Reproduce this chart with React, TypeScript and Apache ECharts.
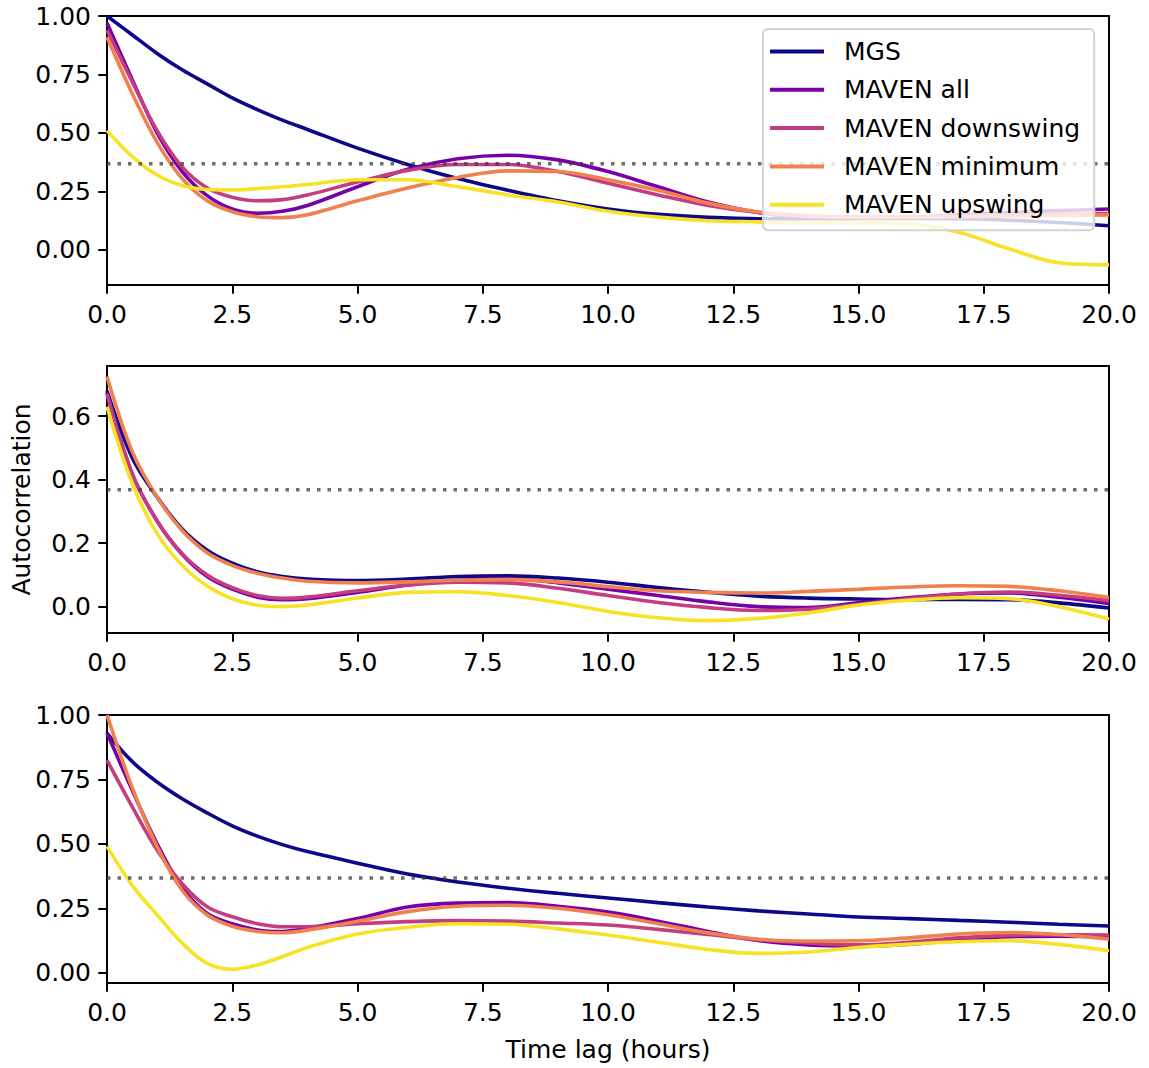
import React, { useEffect, useRef } from 'react';
import * as echarts from 'echarts';

// Time lags (hours) at which each autocorrelation curve is sampled
const lagHours = [0, 0.5, 1, 1.5, 2, 2.5, 3, 3.5, 4, 5, 6, 7, 8, 9, 10, 11, 12, 13, 14, 15, 16, 17, 18, 19, 20];

// Top panel
const topMGS = [1.0, 0.92, 0.84, 0.77, 0.71, 0.65, 0.6, 0.555, 0.515, 0.435, 0.365, 0.305, 0.255, 0.21, 0.175, 0.152, 0.139, 0.133, 0.133, 0.134, 0.135, 0.133, 0.127, 0.117, 0.103];
const topAll = [0.97, 0.73, 0.5, 0.335, 0.232, 0.175, 0.157, 0.165, 0.19, 0.27, 0.345, 0.39, 0.405, 0.385, 0.335, 0.27, 0.205, 0.16, 0.138, 0.135, 0.14, 0.15, 0.16, 0.168, 0.175];
const topDown = [0.94, 0.72, 0.51, 0.355, 0.265, 0.225, 0.21, 0.215, 0.235, 0.29, 0.34, 0.365, 0.365, 0.335, 0.285, 0.235, 0.19, 0.16, 0.145, 0.14, 0.14, 0.145, 0.15, 0.152, 0.155];
const topMin = [0.91, 0.67, 0.46, 0.305, 0.21, 0.163, 0.142, 0.138, 0.15, 0.21, 0.265, 0.31, 0.338, 0.335, 0.3, 0.255, 0.2, 0.162, 0.145, 0.14, 0.14, 0.142, 0.145, 0.148, 0.15];
const topUp = [0.51, 0.4, 0.32, 0.275, 0.258, 0.256, 0.262, 0.27, 0.28, 0.3, 0.3, 0.27, 0.235, 0.205, 0.165, 0.14, 0.125, 0.12, 0.115, 0.115, 0.112, 0.075, 0.005, -0.055, -0.064];

// Middle panel
const midMGS = [0.68, 0.47, 0.345, 0.245, 0.178, 0.137, 0.11, 0.095, 0.087, 0.082, 0.087, 0.095, 0.097, 0.09, 0.077, 0.06, 0.045, 0.033, 0.027, 0.024, 0.022, 0.023, 0.022, 0.012, -0.004];
const midAll = [0.675, 0.42, 0.27, 0.165, 0.095, 0.055, 0.03, 0.022, 0.025, 0.045, 0.068, 0.083, 0.088, 0.075, 0.055, 0.035, 0.015, 0.0, -0.003, 0.012, 0.028, 0.04, 0.043, 0.03, 0.01];
const midDown = [0.67, 0.42, 0.27, 0.167, 0.1, 0.06, 0.035, 0.026, 0.03, 0.05, 0.068, 0.077, 0.075, 0.058, 0.035, 0.013, -0.003, -0.012, -0.008, 0.007, 0.025, 0.04, 0.046, 0.036, 0.019];
const midMin = [0.725, 0.49, 0.345, 0.24, 0.17, 0.13, 0.105, 0.09, 0.08, 0.075, 0.078, 0.083, 0.085, 0.078, 0.063, 0.05, 0.045, 0.043, 0.048, 0.055, 0.062, 0.066, 0.064, 0.05, 0.029];
const midUp = [0.63, 0.39, 0.23, 0.13, 0.065, 0.025, 0.005, 0.0, 0.005, 0.027, 0.045, 0.047, 0.035, 0.013, -0.015, -0.035, -0.044, -0.037, -0.02, 0.005, 0.02, 0.028, 0.025, 0.0, -0.039];

// Bottom panel
const botMGS = [0.93, 0.82, 0.74, 0.675, 0.62, 0.57, 0.53, 0.497, 0.47, 0.425, 0.383, 0.352, 0.328, 0.308, 0.29, 0.272, 0.255, 0.24, 0.228, 0.216, 0.21, 0.203, 0.196, 0.188, 0.181];
const botAll = [0.93, 0.71, 0.5, 0.33, 0.23, 0.19, 0.166, 0.16, 0.172, 0.21, 0.255, 0.27, 0.272, 0.258, 0.235, 0.2, 0.16, 0.125, 0.108, 0.104, 0.11, 0.128, 0.14, 0.142, 0.14];
const botDown = [0.825, 0.645, 0.476, 0.345, 0.256, 0.217, 0.19, 0.178, 0.178, 0.19, 0.198, 0.202, 0.2, 0.193, 0.185, 0.168, 0.148, 0.128, 0.115, 0.108, 0.118, 0.135, 0.145, 0.147, 0.146];
const botMin = [1.0, 0.72, 0.49, 0.32, 0.224, 0.18, 0.16, 0.155, 0.165, 0.2, 0.237, 0.258, 0.262, 0.25, 0.225, 0.19, 0.155, 0.13, 0.123, 0.124, 0.135, 0.15, 0.156, 0.148, 0.13];
const botUp = [0.49, 0.34, 0.224, 0.115, 0.036, 0.013, 0.03, 0.062, 0.098, 0.15, 0.176, 0.19, 0.188, 0.17, 0.146, 0.118, 0.09, 0.075, 0.08, 0.098, 0.11, 0.12, 0.124, 0.11, 0.085];

const seriesNames = ['MGS', 'MAVEN all', 'MAVEN downswing', 'MAVEN minimum', 'MAVEN upswing'];
const seriesColors = ['#0d0887', '#7601a8', '#c33d80', '#f0804e', '#f7e225'];

// e-folding level (1/e)
const eFoldLevel = 0.3679;

const yTicksTop = [0, 0.25, 0.5, 0.75, 1.0];
const yTicksMid = [0, 0.2, 0.4, 0.6];
const yTicksBot = [0, 0.25, 0.5, 0.75, 1.0];

const FONT = 'DejaVu Sans';
const FS = 25;

const panels = [
  { values: [topMGS, topAll, topDown, topMin, topUp], yMin: -0.15, yMax: 1.0, ticks: yTicksTop, digits: 2, top: 16, height: 269 },
  { values: [midMGS, midAll, midDown, midMin, midUp], yMin: -0.083, yMax: 0.758, ticks: yTicksMid, digits: 1, top: 366, height: 267 },
  { values: [botMGS, botAll, botDown, botMin, botUp], yMin: -0.04, yMax: 1.0, ticks: yTicksBot, digits: 2, top: 715, height: 268 },
];

function buildOption() {
  const grid = panels.map((p) => ({
    left: 107,
    width: 1002,
    top: p.top,
    height: p.height,
    show: true,
    borderColor: '#000',
    borderWidth: 2,
    backgroundColor: 'transparent',
  }));

  const xAxis = panels.map((p, i) => ({
    type: 'value',
    gridIndex: i,
    min: 0,
    max: 20,
    interval: 2.5,
    name: i === 2 ? 'Time lag (hours)' : '',
    nameLocation: 'middle',
    nameGap: 54,
    nameTextStyle: { fontFamily: FONT, fontSize: FS, color: '#000', lineHeight: 25 },
    axisLine: { show: true, onZero: false, lineStyle: { color: '#000', width: 2 } },
    axisTick: { show: true, length: 8.75, lineStyle: { color: '#000', width: 2 } },
    axisLabel: {
      fontFamily: FONT,
      fontSize: FS,
      color: '#000',
      margin: 17,
      lineHeight: 25,
      formatter: (v: number) => v.toFixed(1),
    },
    splitLine: { show: false },
  }));

  const yAxis = panels.map((p, i) => ({
    type: 'value',
    gridIndex: i,
    min: p.yMin,
    max: p.yMax,
    name: i === 1 ? 'Autocorrelation' : '',
    nameLocation: 'middle',
    nameGap: 73,
    nameTextStyle: { fontFamily: FONT, fontSize: FS, color: '#000', lineHeight: 25 },
    axisLine: { show: true, onZero: false, lineStyle: { color: '#000', width: 2 } },
    axisTick: { show: true, length: 8.75, customValues: p.ticks, lineStyle: { color: '#000', width: 2 } },
    axisLabel: {
      fontFamily: FONT,
      fontSize: FS,
      color: '#000',
      margin: 16,
      customValues: p.ticks,
      formatter: (v: number) => v.toFixed(p.digits),
    },
    splitLine: { show: false },
  }));

  const series: any[] = [];
  panels.forEach((p, i) => {
    p.values.forEach((vals, k) => {
      series.push({
        type: 'line',
        name: seriesNames[k],
        xAxisIndex: i,
        yAxisIndex: i,
        data: lagHours.map((x, j) => [x, vals[j]]),
        smooth: 0.35,
        showSymbol: false,
        symbol: 'none',
        color: seriesColors[k],
        lineStyle: { color: seriesColors[k], width: 3.6 },
        silent: true,
        z: 2,
      });
    });
    series.push({
      type: 'line',
      name: '1/e',
      xAxisIndex: i,
      yAxisIndex: i,
      data: [[0, eFoldLevel], [20, eFoldLevel]],
      showSymbol: false,
      symbol: 'none',
      lineStyle: { color: 'rgba(60,60,60,0.75)', width: 3.5, type: [3.5, 7], cap: 'butt' },
      silent: true,
      z: 3,
    });
  });

  return {
    animation: false,
    backgroundColor: '#fff',
    textStyle: { fontFamily: FONT },
    grid,
    xAxis,
    yAxis,
    legend: {
      data: seriesNames,
      orient: 'vertical',
      left: 763,
      top: 29,
      padding: [10, 14, 13, 7],
      itemGap: 13.3,
      itemWidth: 54,
      itemHeight: 4,
      icon: 'rect',
      selectedMode: false,
      backgroundColor: 'rgba(255,255,255,0.8)',
      borderColor: '#d4d4d4',
      borderWidth: 2,
      borderRadius: 5,
      textStyle: {
        fontFamily: FONT,
        fontSize: FS,
        color: '#000',
        lineHeight: 25,
        padding: [0, 0, 0, 15],
      },
      z: 10,
    },
    series,
  };
}

export default function App() {
  const ref = useRef<HTMLDivElement>(null);
  useEffect(() => {
    if (!ref.current) return;
    const chart = echarts.init(ref.current, undefined, { renderer: 'svg' });
    chart.setOption(buildOption() as any);
    return () => chart.dispose();
  }, []);
  return (
    <div
      ref={ref}
      style={{ position: 'absolute', left: 0, top: 0, width: 1149, height: 1068, background: '#fff' }}
    />
  );
}
